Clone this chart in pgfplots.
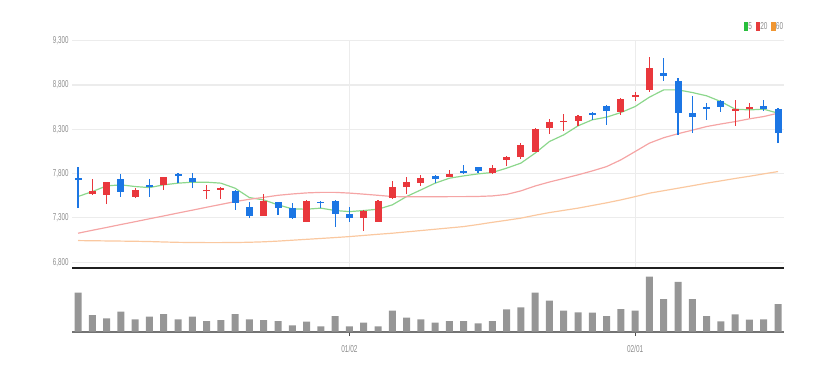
\documentclass[border=0pt]{standalone}
\usepackage{graphicx}
\usepackage{fontspec}
\setmainfont{Liberation Sans}
\usepackage{pgfplots}
\usepackage{pgfplotstable}
\pgfplotsset{compat=1.18}
\definecolor{up}{RGB}{233,55,60}
\definecolor{down}{RGB}{28,118,228}
\definecolor{maA}{RGB}{140,215,140}
\definecolor{maB}{RGB}{245,165,165}
\definecolor{maC}{RGB}{250,200,160}
\definecolor{legA}{RGB}{40,190,60}
\definecolor{legB}{RGB}{230,60,60}
\definecolor{legC}{RGB}{240,150,50}
\definecolor{txt}{RGB}{140,140,140}
\definecolor{volbar}{RGB}{150,150,150}
\definecolor{gridc}{RGB}{236,236,236}

\pgfplotstableread{
i o h l c
1 7568 7737 7560 7605
2 7560 7703 7455 7703
4 7541 7635 7523 7616
6 7673 7766 7616 7760
9 7600 7673 7511 7617
10 7620 7647 7515 7637
13 7326 7571 7326 7495
16 7252 7500 7252 7492
20 7297 7386 7157 7379
21 7258 7500 7258 7492
22 7523 7721 7515 7654
23 7647 7766 7571 7703
24 7699 7786 7665 7748
26 7766 7842 7766 7797
29 7805 7898 7797 7861
30 7955 8000 7887 7992
31 7992 8144 7963 8124
32 8042 8317 8042 8305
33 8320 8418 8245 8381
34 8380 8471 8282 8397
35 8399 8456 8339 8448
38 8494 8651 8463 8640
39 8663 8726 8624 8689
40 8745 9121 8726 8990
46 8508 8632 8339 8527
47 8527 8595 8426 8548
}\upc

\pgfplotstableread{
i o h l c
0 7752 7879 7410 7725
3 7740 7797 7541 7597
5 7669 7737 7541 7647
7 7800 7812 7692 7774
8 7755 7805 7635 7707
11 7608 7616 7390 7473
12 7421 7477 7297 7323
14 7477 7484 7334 7410
15 7416 7473 7290 7297
17 7484 7492 7410 7466
18 7492 7500 7202 7342
19 7342 7421 7258 7297
25 7771 7786 7692 7737
27 7831 7898 7797 7812
28 7873 7880 7812 7831
36 8489 8497 8407 8463
37 8565 8576 8350 8512
41 8941 9103 8850 8903
42 8850 8877 8237 8489
43 8489 8678 8256 8444
44 8550 8595 8407 8527
45 8624 8633 8500 8557
48 8568 8632 8512 8531
49 8527 8538 8144 8256
}\downc

\pgfplotstableread{
i a b c
0 7541 7127 7044
1 7597 7160 7042
2 7661 7192 7040
3 7673 7225 7038
4 7654 7257 7036
5 7642 7290 7033
6 7673 7322 7028
7 7692 7355 7024
8 7703 7387 7022
9 7703 7420 7021
10 7692 7452 7021
11 7635 7484 7022
12 7529 7510 7025
13 7503 7532 7030
14 7447 7555 7038
15 7402 7570 7048
16 7398 7582 7058
17 7410 7588 7068
18 7383 7588 7078
19 7371 7580 7089
20 7383 7568 7102
21 7398 7555 7115
22 7447 7541 7127
23 7541 7538 7142
24 7616 7538 7157
25 7692 7538 7172
26 7748 7540 7187
27 7774 7540 7202
28 7797 7542 7225
29 7812 7548 7250
30 7861 7565 7273
31 7918 7605 7297
32 8031 7660 7330
33 8162 7705 7360
34 8237 7745 7385
35 8339 7786 7410
36 8407 7830 7440
37 8437 7879 7470
38 8489 7955 7503
39 8557 8049 7540
40 8663 8144 7579
41 8745 8205 7607
42 8745 8250 7635
43 8715 8290 7663
44 8678 8331 7692
45 8613 8360 7718
46 8527 8387 7745
47 8519 8418 7770
48 8527 8444 7797
49 8482 8482 7823
}\ma

\pgfplotstableread{
i v
0 390
1 167
2 133
3 200
4 123
5 150
6 177
7 123
8 150
9 107
10 117
11 177
12 123
13 117
14 107
15 63
16 100
17 53
18 157
19 53
20 90
21 53
22 210
23 140
24 123
25 90
26 107
27 107
28 83
29 107
30 223
31 243
32 390
33 310
34 210
35 193
36 190
37 157
38 227
39 210
40 550
41 327
42 497
43 327
44 157
45 103
46 173
47 120
48 123
49 277
}\vol

\begin{document}
\begin{tikzpicture}
\useasboundingbox (0,0) rectangle (837pt,-374pt);
\begin{axis}[
  at={(72pt,-268.3pt)}, anchor=south west, scale only axis,
  width=712pt, height=227.6pt,
  xmin=-0.42, xmax=49.42, ymin=6731, ymax=9300,
  axis x line*=bottom, axis y line*=left,
  x axis line style={-, black!88, line width=1.8pt},
  y axis line style={draw=none},
  xtick={19,39}, xticklabels={}, xmajorgrids,
  major x grid style={gridc, line width=0.6pt},
  ytick={6800,7300,...,9300}, ymajorgrids,
  major y grid style={gridc, line width=1.2pt},
  major tick length=0pt,
  yticklabel style={font=\fontsize{10}{10}\selectfont, text=txt},
  yticklabel={\scalebox{0.62}[1]{\pgfmathprintnumber[assume math mode=true, 1000 sep={,}]{\tick}}},
  legend style={draw=none, fill=none, at={(1,1)}, anchor=south east, yshift=9pt,
    inner sep=0pt, outer sep=0pt, font=\fontsize{10}{10}\selectfont, text=txt,
    /tikz/every even column/.append style={column sep=3pt},
    nodes={inner sep=0.8pt}},
  legend columns=-1,
  legend image code/.code={\fill[#1] (0pt,-3.6pt) rectangle (3.4pt,4.2pt);},
]
\addlegendimage{legA}
\addlegendentry{\scalebox{0.65}[1]{5}}
\addlegendimage{legB}
\addlegendentry{\scalebox{0.65}[1]{20}}
\addlegendimage{legC}
\addlegendentry{\scalebox{0.65}[1]{60}}

\addplot[maA, line width=1.2pt, no markers, line join=round, forget plot] table[x=i, y=a] \ma;
\addplot[maB, line width=1.2pt, no markers, line join=round, forget plot] table[x=i, y=b] \ma;
\addplot[maC, line width=1.2pt, no markers, line join=round, forget plot] table[x=i, y=c] \ma;

% wicks
\addplot[draw=none, no markers, forget plot,
  error bars/.cd, y dir=plus, y explicit, error mark=none,
  error bar style={draw=up, line width=1.1pt}]
  table[x=i, y=l, y error plus expr=\thisrow{h}-\thisrow{l}] \upc;
\addplot[draw=none, no markers, forget plot,
  error bars/.cd, y dir=plus, y explicit, error mark=none,
  error bar style={draw=down, line width=1.1pt}]
  table[x=i, y=l, y error plus expr=\thisrow{h}-\thisrow{l}] \downc;
% bodies
\addplot[draw=none, no markers, forget plot,
  error bars/.cd, y dir=plus, y explicit, error mark=none,
  error bar style={draw=up, line width=7pt}]
  table[x=i, y=o, y error plus expr=\thisrow{c}-\thisrow{o}] \upc;
\addplot[draw=none, no markers, forget plot,
  error bars/.cd, y dir=plus, y explicit, error mark=none,
  error bar style={draw=down, line width=7pt}]
  table[x=i, y=c, y error plus expr=\thisrow{o}-\thisrow{c}] \downc;
\end{axis}

\begin{axis}[
  at={(72pt,-331.7pt)}, anchor=south west, scale only axis,
  width=712pt, height=61.7pt,
  xmin=-0.42, xmax=49.42, ymin=0, ymax=617,
  axis x line*=bottom, axis y line=none,
  x axis line style={-, black!55, line width=1.8pt},
  xtick={19,39},
  xticklabels={\scalebox{0.65}[1]{01/02},\scalebox{0.65}[1]{02/01}},
  tick align=outside, major tick length=4pt,
  tick style={black!70, line width=0.8pt},
  xticklabel style={font=\fontsize{10}{10}\selectfont, text=txt, yshift=-6pt},
  ytick=\empty,
]
\addplot[ybar, bar width=7pt, fill=volbar, draw=none] table[x=i, y=v] \vol;
\end{axis}
\end{tikzpicture}
\end{document}
